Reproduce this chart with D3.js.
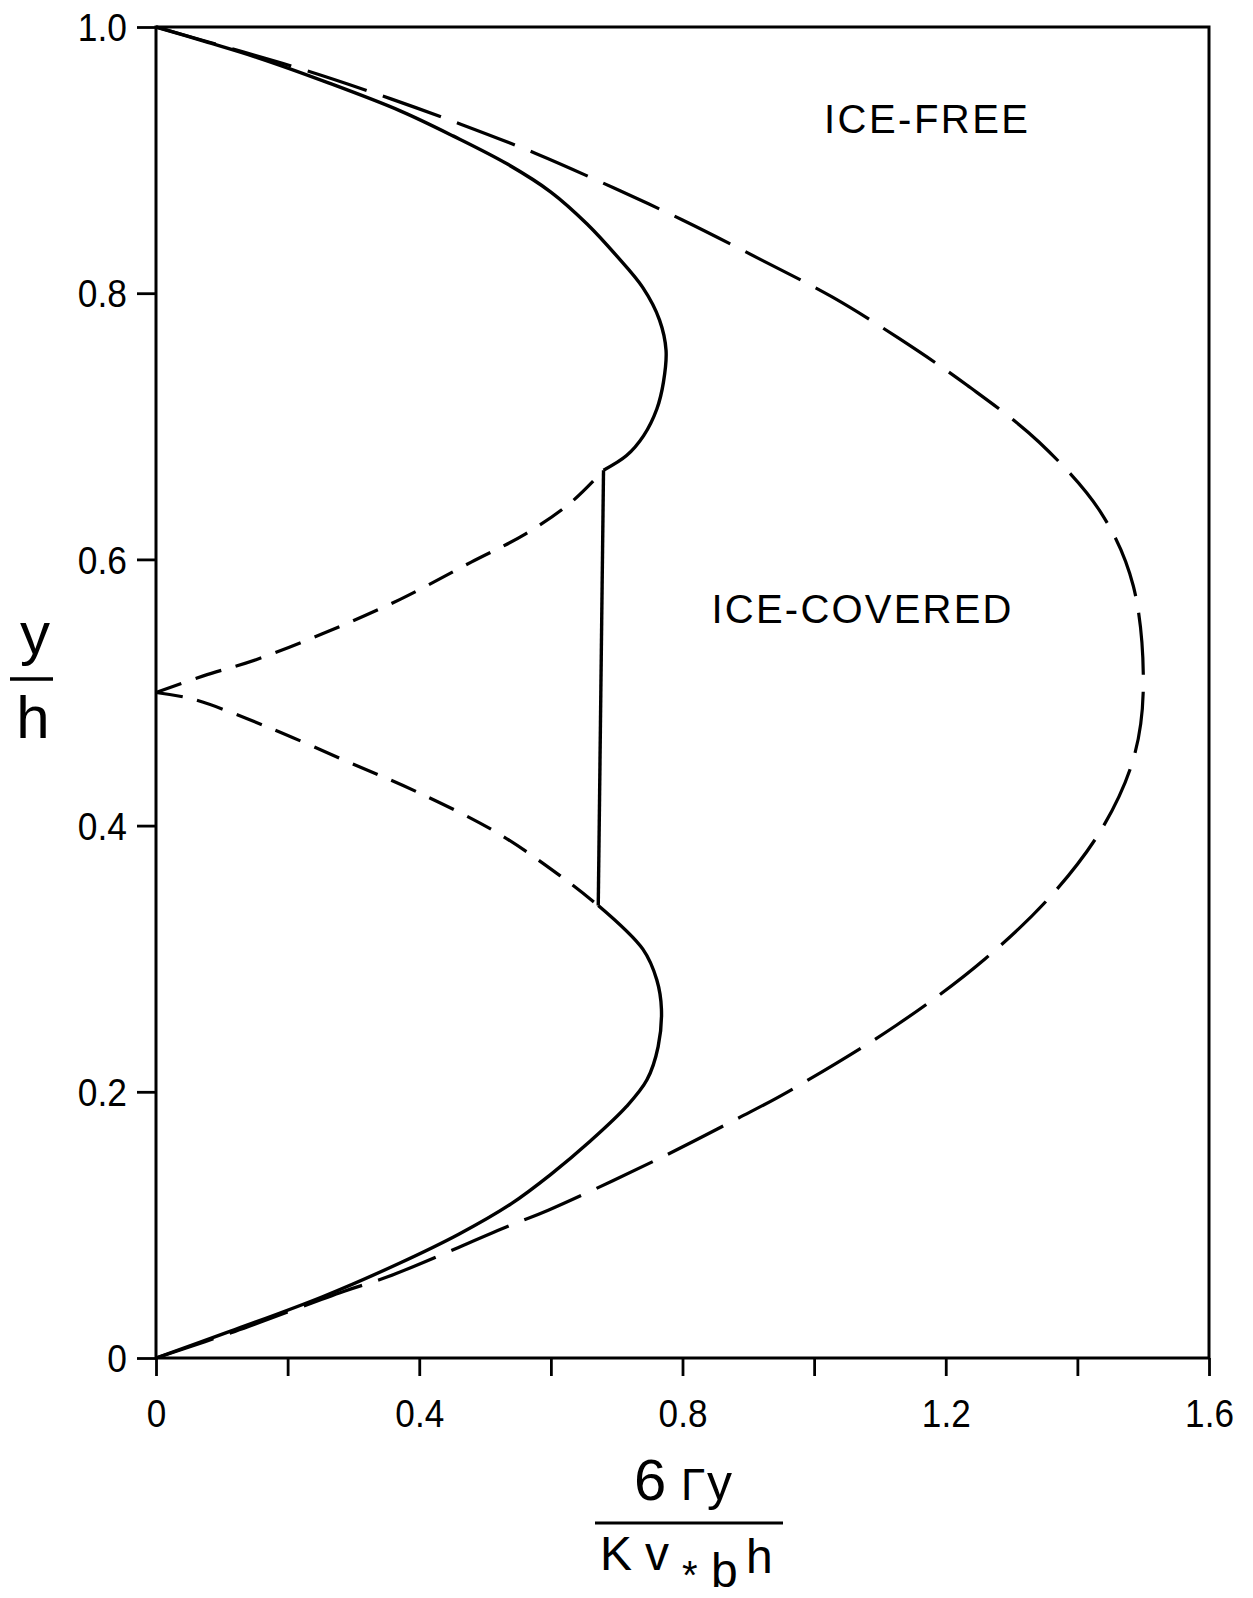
<!DOCTYPE html>
<html><head><meta charset="utf-8">
<script src="https://cdn.jsdelivr.net/npm/d3@7"></script>
<style>
body{margin:0;background:#fff;}
svg{display:block;font-family:"Liberation Sans",Arial,sans-serif;}
</style></head>
<body>
<svg id="chart" width="1253" height="1598"></svg>
<script>
// ---------- data ----------
const xTickValues = [0, 0.2, 0.4, 0.6, 0.8, 1.0, 1.2, 1.4, 1.6];
const xTickLabels = ["0", "", "0.4", "", "0.8", "", "1.2", "", "1.6"];
const yTickValues = [0, 0.2, 0.4, 0.6, 0.8, 1.0];
const yTickLabels = ["0", "0.2", "0.4", "0.6", "0.8", "1.0"];

// ice-free profile (long dashes): [x, y]
const iceFree = [
  [0, 1.0], [0.12, 0.983], [0.23, 0.967], [0.357, 0.946], [0.463, 0.927],
  [0.577, 0.905], [0.696, 0.879], [0.80, 0.855], [0.916, 0.826], [1.028, 0.797],
  [1.129, 0.766], [1.232, 0.731], [1.342, 0.688], [1.436, 0.635], [1.485, 0.58],
  [1.5, 0.5], [1.485, 0.45], [1.44, 0.4], [1.365, 0.35], [1.26, 0.3],
  [1.125, 0.25], [0.96, 0.2], [0.884, 0.18], [0.765, 0.15], [0.596, 0.111],
  [0.54, 0.1], [0.352, 0.061], [0.285, 0.05], [0.12, 0.02], [0, 0]
];
// ice-covered profile (solid): upper branch, vertical jump, lower branch
const coveredUpper = [
  [0, 1.0], [0.075, 0.989], [0.154, 0.977], [0.262, 0.958], [0.371, 0.937],
  [0.452, 0.918], [0.534, 0.897], [0.600, 0.876], [0.655, 0.852], [0.700, 0.828],
  [0.740, 0.804], [0.765, 0.780], [0.775, 0.757], [0.771, 0.733], [0.761, 0.713],
  [0.741, 0.693], [0.715, 0.678], [0.680, 0.667]
];
const coveredJump = [[0.680, 0.667], [0.672, 0.340]];
const coveredLower = [
  [0.672, 0.340], [0.740, 0.307], [0.761, 0.284], [0.768, 0.262], [0.763, 0.234],
  [0.746, 0.209], [0.715, 0.189], [0.660, 0.163], [0.600, 0.138], [0.540, 0.116],
  [0.460, 0.093], [0.369, 0.071], [0.253, 0.046], [0.107, 0.019], [0, 0]
];
// ice-covered two-layer branches (short dashes)
const layerUpper = [
  [0, 0.50], [0.072, 0.5125], [0.154, 0.525], [0.262, 0.546], [0.371, 0.570],
  [0.479, 0.598], [0.561, 0.619], [0.631, 0.643], [0.680, 0.667]
];
const layerLower = [
  [0, 0.50], [0.056, 0.495], [0.165, 0.475], [0.289, 0.4485], [0.398, 0.425],
  [0.517, 0.395], [0.615, 0.362], [0.672, 0.340]
];
const regionLabels = [
  {text: "ICE-FREE", x: 1.17, y: 0.92, width: 204},
  {text: "ICE-COVERED", x: 1.072, y: 0.552, width: 300}
];

// ---------- drawing ----------
const svg = d3.select("#chart");
const L = 156, R = 1209, T = 27, B = 1358;
const x = d3.scaleLinear().domain([0, 1.6]).range([L, R]);
const y = d3.scaleLinear().domain([0, 1.0]).range([B, T]);

const smooth = d3.line().x(d => x(d[0])).y(d => y(d[1])).curve(d3.curveCatmullRom.alpha(0.5));
const straight = d3.line().x(d => x(d[0])).y(d => y(d[1]));

// frame
svg.append("rect").attr("x", L).attr("y", T).attr("width", R - L).attr("height", B - T)
  .attr("fill", "none").attr("stroke", "#000").attr("stroke-width", 3);

function condense(sel, factor) {
  sel.each(function () {
    const w = this.getComputedTextLength();
    if (w > 0) d3.select(this).attr("textLength", w * factor).attr("lengthAdjust", "spacingAndGlyphs");
  });
}

// axes
const xAxis = d3.axisBottom(x).tickValues(xTickValues)
  .tickFormat((d, i) => xTickLabels[i]).tickSize(18).tickPadding(6);
const gx = svg.append("g").attr("transform", `translate(0,${B})`).call(xAxis);
gx.select(".domain").remove();
gx.selectAll(".tick line").attr("stroke", "#000").attr("stroke-width", 2.8);
gx.selectAll(".tick text").attr("font-size", 39).attr("fill", "#000")
  .attr("font-family", '"Liberation Sans",Arial,sans-serif')
  .attr("y", 69).attr("dy", 0);
condense(gx.selectAll(".tick text"), 0.9);

const yAxis = d3.axisLeft(y).tickValues(yTickValues)
  .tickFormat((d, i) => yTickLabels[i]).tickSize(19).tickPadding(10);
const gy = svg.append("g").attr("transform", `translate(${L},0)`).call(yAxis);
gy.select(".domain").remove();
gy.selectAll(".tick line").attr("stroke", "#000").attr("stroke-width", 2.8);
gy.selectAll(".tick text").attr("font-size", 38).attr("fill", "#000")
  .attr("font-family", '"Liberation Sans",Arial,sans-serif').attr("dy", "0.36em");
condense(gy.selectAll(".tick text"), 0.93);

// curves
const curves = svg.append("g").attr("fill", "none").attr("stroke", "#000")
  .attr("stroke-linecap", "butt").attr("stroke-linejoin", "round");
curves.append("path").attr("d", smooth(iceFree)).attr("stroke-width", 3.2)
  .attr("stroke-dasharray", "62,17");
curves.append("path").attr("d", smooth(layerUpper)).attr("stroke-width", 3.2)
  .attr("stroke-dasharray", "27,15");
curves.append("path").attr("d", smooth(layerLower)).attr("stroke-width", 3.2)
  .attr("stroke-dasharray", "27,15");
curves.append("path").attr("d", smooth(coveredUpper)).attr("stroke-width", 3.4);
curves.append("path").attr("d", straight(coveredJump)).attr("stroke-width", 3.4);
curves.append("path").attr("d", smooth(coveredLower)).attr("stroke-width", 3.4);

// region labels
svg.selectAll("text.region").data(regionLabels).enter().append("text")
  .attr("class", "region")
  .attr("x", d => x(d.x)).attr("y", d => y(d.y))
  .attr("text-anchor", "middle").attr("font-size", 40).attr("fill", "#000")
  .attr("textLength", d => d.width)
  .attr("lengthAdjust", "spacing")
  .text(d => d.text);

// y-axis title: y / h
const yt = svg.append("g");
yt.append("text").attr("x", 35).attr("y", 654).attr("text-anchor", "middle")
  .attr("font-size", 60).text("y");
yt.append("line").attr("x1", 10).attr("x2", 53).attr("y1", 679).attr("y2", 679)
  .attr("stroke", "#000").attr("stroke-width", 3.5);
yt.append("text").attr("x", 33).attr("y", 738).attr("text-anchor", "middle")
  .attr("font-size", 60).text("h");

// x-axis title: 6 Γy / κ v*b h
const xt = svg.append("g");
const num = xt.append("text").attr("y", 1500);
num.append("tspan").attr("x", 634).attr("font-size", 58).text("6");
num.append("tspan").attr("x", 681).attr("font-size", 44).text("Γ");
num.append("tspan").attr("x", 707).attr("font-size", 50).text("y");
xt.append("line").attr("x1", 595).attr("x2", 783).attr("y1", 1523).attr("y2", 1523)
  .attr("stroke", "#000").attr("stroke-width", 3.2);
const den = xt.append("text");
den.append("tspan").attr("x", 600).attr("y", 1570).attr("font-size", 48).text("Κ");
den.append("tspan").attr("x", 645).attr("y", 1570).attr("font-size", 48).text("v");
den.append("tspan").attr("x", 682).attr("y", 1589).attr("font-size", 40).text("*");
den.append("tspan").attr("x", 711).attr("y", 1587).attr("font-size", 48).text("b");
den.append("tspan").attr("x", 746).attr("y", 1573).attr("font-size", 48).text("h");
</script>
</body></html>
